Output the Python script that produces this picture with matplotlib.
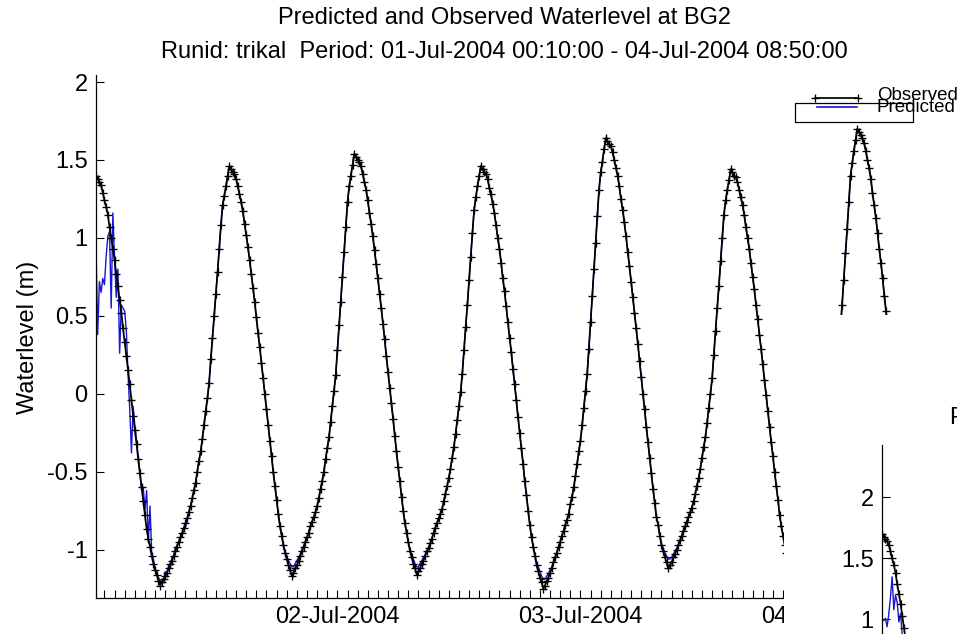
import numpy as np
import pandas as pd
import matplotlib
matplotlib.use("Agg")
import matplotlib.pyplot as plt
import matplotlib.dates as mdates
from matplotlib.patches import Rectangle
from matplotlib.lines import Line2D

plt.rcParams['font.family'] = ['Liberation Sans', 'DejaVu Sans']

STATION = "BG2"
RUNID = "trikal"
PERIOD_START = "2004-07-01 00:10:00"
PERIOD_END = "2004-07-04 08:50:00"
STEP = "10min"

# Observed water level (m), 10-minute samples from PERIOD_START
observed = [
    1.40, 1.38, 1.36, 1.34, 1.29, 1.24, 1.20, 1.15, 1.07, 1.00, 0.93, 0.86, 0.77, 0.69, 0.60, 0.52, 0.42, 0.33, 0.24, 0.15,
    0.06, -0.04, -0.14, -0.23, -0.32, -0.42, -0.51, -0.60, -0.69, -0.78, -0.87, -0.93, -0.98, -1.04, -1.09, -1.13, -1.16, -1.20, -1.23,
    -1.21, -1.19, -1.17, -1.15, -1.12, -1.09, -1.07, -1.04, -1.01, -0.98, -0.95, -0.92, -0.89, -0.86, -0.83, -0.80, -0.76, -0.72, -0.67, -0.62,
    -0.57, -0.50, -0.43, -0.37, -0.29, -0.20, -0.11, -0.03, 0.07, 0.22, 0.36, 0.50, 0.64, 0.78, 0.93, 1.08, 1.21, 1.27, 1.33, 1.40, 1.46,
    1.44, 1.42, 1.41, 1.38, 1.33, 1.28, 1.23, 1.17, 1.09, 1.02, 0.94, 0.86, 0.77, 0.68, 0.59, 0.49, 0.39, 0.30, 0.20, 0.10,
    0.00, -0.10, -0.20, -0.30, -0.40, -0.50, -0.59, -0.68, -0.77, -0.85, -0.91, -0.97, -1.02, -1.06, -1.10, -1.13, -1.17,
    -1.15, -1.12, -1.10, -1.07, -1.04, -1.01, -0.98, -0.95, -0.92, -0.89, -0.85, -0.82, -0.79, -0.76, -0.72, -0.67, -0.61, -0.56, -0.50, -0.42,
    -0.35, -0.28, -0.18, -0.08, 0.02, 0.12, 0.28, 0.44, 0.59, 0.75, 0.91, 1.07, 1.23, 1.33, 1.40, 1.47, 1.54,
    1.52, 1.50, 1.49, 1.46, 1.41, 1.36, 1.31, 1.24, 1.16, 1.09, 1.01, 0.92, 0.83, 0.74, 0.64, 0.55, 0.45, 0.35, 0.24, 0.14,
    0.04, -0.06, -0.16, -0.27, -0.37, -0.47, -0.56, -0.66, -0.75, -0.83, -0.89, -0.95, -1.01, -1.05, -1.09, -1.12, -1.16,
    -1.14, -1.12, -1.09, -1.07, -1.04, -1.01, -0.99, -0.96, -0.93, -0.89, -0.86, -0.83, -0.80, -0.77, -0.74, -0.69, -0.64, -0.59, -0.54, -0.48,
    -0.41, -0.34, -0.26, -0.17, -0.08, 0.01, 0.13, 0.28, 0.43, 0.57, 0.73, 0.88, 1.03, 1.18, 1.26, 1.33, 1.40, 1.46,
    1.44, 1.42, 1.41, 1.38, 1.32, 1.28, 1.22, 1.16, 1.08, 1.00, 0.93, 0.84, 0.74, 0.66, 0.56, 0.46, 0.36, 0.27, 0.16, 0.06,
    -0.04, -0.15, -0.25, -0.35, -0.45, -0.56, -0.65, -0.75, -0.84, -0.92, -0.98, -1.04, -1.10, -1.14, -1.18, -1.21, -1.25,
    -1.23, -1.20, -1.18, -1.15, -1.12, -1.08, -1.05, -1.02, -0.98, -0.95, -0.91, -0.88, -0.84, -0.81, -0.77, -0.71, -0.66, -0.60, -0.53, -0.45,
    -0.37, -0.30, -0.20, -0.09, 0.02, 0.13, 0.29, 0.46, 0.63, 0.80, 0.97, 1.14, 1.31, 1.42, 1.49, 1.57, 1.64,
    1.62, 1.60, 1.59, 1.55, 1.50, 1.45, 1.40, 1.33, 1.25, 1.18, 1.10, 1.01, 0.91, 0.82, 0.72, 0.62, 0.52, 0.42, 0.32, 0.21,
    0.11, 0.00, -0.10, -0.21, -0.31, -0.41, -0.51, -0.61, -0.70, -0.79, -0.84, -0.91, -0.97, -1.01, -1.05, -1.08, -1.12,
    -1.10, -1.08, -1.05, -1.03, -1.00, -0.97, -0.94, -0.91, -0.88, -0.85, -0.82, -0.79, -0.76, -0.73, -0.69, -0.64, -0.59, -0.54, -0.48, -0.41,
    -0.34, -0.28, -0.19, -0.09, 0.00, 0.10, 0.25, 0.40, 0.55, 0.69, 0.85, 1.00, 1.15, 1.24, 1.31, 1.37, 1.44,
    1.42, 1.40, 1.39, 1.36, 1.31, 1.26, 1.21, 1.15, 1.07, 1.00, 0.93, 0.84, 0.75, 0.67, 0.57, 0.48, 0.38, 0.29, 0.19, 0.09,
    -0.01, -0.11, -0.21, -0.31, -0.40, -0.50, -0.59, -0.68, -0.78, -0.85, -0.91, -0.97, -1.02, -1.07, -1.10, -1.13, -1.17,
    -1.15, -1.12, -1.10, -1.07, -1.04, -1.01, -0.98, -0.95, -0.91, -0.88, -0.85, -0.81, -0.78, -0.74, -0.71, -0.66, -0.60, -0.55, -0.50, -0.42,
    -0.34, -0.27, -0.19, -0.09, 0.02, 0.12, 0.25, 0.41, 0.57, 0.73, 0.90, 1.06, 1.23, 1.40, 1.48, 1.56, 1.63, 1.70,
    1.68, 1.66, 1.64, 1.61, 1.56, 1.50, 1.45, 1.38, 1.29, 1.21, 1.13, 1.03, 0.93, 0.84, 0.74, 0.63, 0.53, 0.42, 0.31, 0.20,
    0.09, -0.02, -0.13, -0.24, -0.35, -0.46, -0.56, -0.66, -0.76, -0.85, -0.91, -0.97, -1.04,
]

# Model prediction (m), same 10-minute samples
predicted = [
    0.95, 0.38, 0.72, 0.65, 0.74, 0.70, 0.88, 1.01, 1.04, 0.55, 1.16, 0.86, 0.62, 0.80, 0.26, 0.57, 0.55, 0.53, 0.40, 0.12,
    -0.10, -0.38, -0.08, -0.20, -0.30, -0.40, -0.50, -0.62, -0.60, -0.75, -0.62, -0.95, -0.72, -1.02, -1.06, -1.12, -1.15, -1.18, -1.20,
    -1.19, -1.20, -1.14, -1.16, -1.10, -1.12, -1.05, -1.04, -0.99, -0.97, -0.96, -0.93, -0.90, -0.88, -0.86, -0.81, -0.76, -0.72, -0.67, -0.62,
    -0.57, -0.50, -0.43, -0.37, -0.29, -0.20, -0.11, -0.03, 0.07, 0.22, 0.36, 0.50, 0.64, 0.78, 0.93, 1.08, 1.21, 1.27, 1.33, 1.40, 1.46,
    1.44, 1.42, 1.41, 1.38, 1.33, 1.28, 1.23, 1.17, 1.09, 1.02, 0.94, 0.86, 0.77, 0.68, 0.59, 0.49, 0.39, 0.30, 0.20, 0.10,
    0.00, -0.10, -0.20, -0.30, -0.40, -0.50, -0.59, -0.68, -0.77, -0.85, -0.91, -0.97, -1.01, -1.04, -1.07, -1.09, -1.11,
    -1.11, -1.09, -1.07, -1.05, -1.03, -1.00, -0.98, -0.95, -0.92, -0.89, -0.85, -0.82, -0.79, -0.76, -0.72, -0.67, -0.61, -0.56, -0.50, -0.42,
    -0.35, -0.28, -0.18, -0.08, 0.02, 0.12, 0.28, 0.44, 0.59, 0.75, 0.91, 1.07, 1.23, 1.33, 1.40, 1.47, 1.54,
    1.52, 1.50, 1.49, 1.46, 1.41, 1.36, 1.31, 1.24, 1.16, 1.09, 1.01, 0.92, 0.83, 0.74, 0.64, 0.55, 0.45, 0.35, 0.24, 0.14,
    0.04, -0.06, -0.16, -0.27, -0.37, -0.47, -0.56, -0.66, -0.75, -0.83, -0.89, -0.95, -1.00, -1.03, -1.06, -1.09, -1.11,
    -1.11, -1.09, -1.07, -1.05, -1.03, -1.01, -0.99, -0.96, -0.93, -0.89, -0.86, -0.83, -0.80, -0.77, -0.74, -0.69, -0.64, -0.59, -0.54, -0.48,
    -0.41, -0.34, -0.26, -0.17, -0.08, 0.01, 0.13, 0.28, 0.43, 0.57, 0.73, 0.88, 1.03, 1.18, 1.26, 1.33, 1.40, 1.46,
    1.44, 1.42, 1.41, 1.38, 1.32, 1.28, 1.22, 1.16, 1.08, 1.00, 0.93, 0.84, 0.74, 0.66, 0.56, 0.46, 0.36, 0.27, 0.16, 0.06,
    -0.04, -0.15, -0.25, -0.35, -0.45, -0.56, -0.65, -0.75, -0.84, -0.92, -0.98, -1.03, -1.08, -1.11, -1.14, -1.17, -1.19,
    -1.19, -1.17, -1.15, -1.13, -1.11, -1.08, -1.05, -1.02, -0.98, -0.95, -0.91, -0.88, -0.84, -0.81, -0.77, -0.71, -0.66, -0.60, -0.53, -0.45,
    -0.37, -0.30, -0.20, -0.09, 0.02, 0.13, 0.29, 0.46, 0.63, 0.80, 0.97, 1.14, 1.31, 1.42, 1.49, 1.57, 1.64,
    1.62, 1.60, 1.59, 1.55, 1.50, 1.45, 1.40, 1.33, 1.25, 1.18, 1.10, 1.01, 0.91, 0.82, 0.72, 0.62, 0.52, 0.42, 0.32, 0.21,
    0.11, 0.00, -0.10, -0.21, -0.31, -0.41, -0.51, -0.61, -0.70, -0.79, -0.84, -0.91, -0.96, -0.99, -1.02, -1.04, -1.06,
    -1.06, -1.05, -1.03, -1.01, -0.99, -0.97, -0.94, -0.91, -0.88, -0.85, -0.82, -0.79, -0.76, -0.73, -0.69, -0.64, -0.59, -0.54, -0.48, -0.41,
    -0.34, -0.28, -0.19, -0.09, 0.00, 0.10, 0.25, 0.40, 0.55, 0.69, 0.85, 1.00, 1.15, 1.24, 1.31, 1.37, 1.44,
    1.42, 1.40, 1.39, 1.36, 1.31, 1.26, 1.21, 1.15, 1.07, 1.00, 0.93, 0.84, 0.75, 0.67, 0.57, 0.48, 0.38, 0.29, 0.19, 0.09,
    -0.01, -0.11, -0.21, -0.31, -0.40, -0.50, -0.59, -0.68, -0.78, -0.85, -0.91, -0.97, -1.00, -1.04, -1.07, -1.09, -1.11,
    -1.11, -1.09, -1.07, -1.05, -1.03, -1.01, -0.98, -0.95, -0.91, -0.88, -0.85, -0.81, -0.78, -0.74, -0.71, -0.66, -0.60, -0.55, -0.50, -0.42,
    -0.34, -0.27, -0.19, -0.09, 0.02, 0.12, 0.25, 0.41, 0.57, 0.73, 0.90, 1.06, 1.23, 1.40, 1.48, 1.56, 1.63, 1.70,
    1.68, 1.66, 1.64, 1.61, 1.56, 1.50, 1.45, 1.38, 1.29, 1.21, 1.13, 1.03, 0.93, 0.84, 0.74, 0.63, 0.53, 0.42, 0.31, 0.20,
    0.09, -0.02, -0.13, -0.24, -0.35, -0.46, -0.56, -0.66, -0.76, -0.85, -0.91, -0.97, -1.04,
]

ytick_values = [-1, -0.5, 0, 0.5, 1, 1.5, 2]
ytick_labels = ["-1", "-0.5", "0", "0.5", "1", "1.5", "2"]

# Second plot window (run starting at the 04-Jul high water)
inset_observed = [1.70, 1.68, 1.66, 1.64, 1.61, 1.56, 1.50, 1.45, 1.38, 1.29, 1.21, 1.13, 1.03, 0.93, 0.84, 0.74, 0.63]
inset_predicted = [1.00, 0.99, 1.01, 0.94, 1.04, 1.18, 1.35, 1.08, 1.20, 1.14, 0.98, 1.05, 0.86, 0.80, 0.75, 0.70, 0.62]
inset_ytick_values = [1, 1.5, 2]
inset_ytick_labels = ["1", "1.5", "2"]

OBS_COLOR = "black"
PRED_COLOR = "#1616d6"
OBS_STYLE = dict(color=OBS_COLOR, lw=1.25, marker="+", ms=5.5, mew=0.95)
PRED_STYLE = dict(color=PRED_COLOR, lw=1.0)

W, H = 957, 634


def fx(x):
    return x / W


def fy(y):
    return 1 - y / H


fig = plt.figure(figsize=(W / 100, H / 100), dpi=100)
fig.patch.set_facecolor("white")

# ---- main axes -------------------------------------------------------------
ax = fig.add_axes([fx(96), fy(598), fx(913) - fx(96), fy(75) - fy(598)])
t_obs = pd.date_range(PERIOD_START, periods=len(observed), freq=STEP)
t_pred = pd.date_range(PERIOD_START, periods=len(predicted), freq=STEP)

ax.plot(t_pred, predicted, zorder=2, **PRED_STYLE)
ax.plot(t_obs, observed, zorder=3, **OBS_STYLE)

ax.set_xlim(pd.Timestamp(PERIOD_START), pd.Timestamp(PERIOD_END))
ax.set_ylim(-1.31, 2.045)
ax.set_yticks(ytick_values)
ax.set_yticklabels(ytick_labels)
ax.xaxis.set_major_locator(mdates.DayLocator())
ax.xaxis.set_major_formatter(mdates.DateFormatter("%d-%b-%Y"))
ax.xaxis.set_minor_locator(mdates.HourLocator())
ax.tick_params(axis="both", which="both", direction="in", length=5.8, width=0.8,
               labelsize=17, colors="black")
ax.tick_params(axis="x", which="major", pad=6)
ax.tick_params(axis="y", which="major", pad=6)
for side in ("top", "right"):
    ax.spines[side].set_visible(False)
for side in ("left", "bottom"):
    ax.spines[side].set_linewidth(0.9)

start = pd.Timestamp(PERIOD_START)
end = pd.Timestamp(PERIOD_END)
fmt = "%d-%b-%Y %H:%M:%S"
fig.text(fx(504.5), fy(18), f"Predicted and Observed Waterlevel at {STATION}",
         ha="center", va="center", fontsize=17)
fig.text(fx(504.5), fy(52),
         f"Runid: {RUNID}  Period: {start.strftime(fmt)} - {end.strftime(fmt)}",
         ha="center", va="center", fontsize=17)
fig.text(fx(28), fy(337), "Waterlevel (m)", rotation=90, ha="center", va="center", fontsize=17)

# ---- legend box ------------------------------------------------------------
fig.add_artist(Rectangle((fx(795), fy(122)), fx(913) - fx(795), fy(103) - fy(122),
                         transform=fig.transFigure, facecolor="white", edgecolor="black",
                         lw=0.9, zorder=4))
fig.add_artist(Line2D([fx(815), fx(858)], [fy(98), fy(98)], transform=fig.transFigure,
                      zorder=5, **OBS_STYLE))
fig.add_artist(Line2D([fx(817), fx(857)], [fy(107), fy(107)], transform=fig.transFigure,
                      zorder=5, color=PRED_COLOR, lw=1.2))
fig.text(fx(877), fy(96), "Observed", ha="left", va="center", fontsize=13.5, zorder=6)
fig.text(fx(877), fy(107), "Predicted", ha="left", va="center", fontsize=13.5, zorder=6)

# ---- second window over the lower right -----------------------------------
fig.add_artist(Rectangle((fx(784), 0), fx(W) - fx(784), fy(315), transform=fig.transFigure,
                         facecolor="white", edgecolor="none", zorder=4.5))

ax2 = fig.add_axes([fx(882), fy(924.5), fx(882 + 817) - fx(882), fy(445) - fy(924.5)])
ax2.set_zorder(6)
ax2.patch.set_visible(False)
ax2.plot(np.arange(len(inset_predicted)), inset_predicted, zorder=2, **PRED_STYLE)
ax2.plot(np.arange(len(inset_observed)), inset_observed, zorder=3, **OBS_STYLE)
ax2.set_xlim(0, len(observed) - 1)
ax2.set_ylim(-1.5, 2.43)
ax2.set_yticks(inset_ytick_values)
ax2.set_yticklabels(inset_ytick_labels)
ax2.set_xticks([])
ax2.tick_params(axis="y", direction="in", length=5.8, width=0.8, labelsize=17, pad=6)
for side in ("top", "right", "bottom"):
    ax2.spines[side].set_visible(False)
ax2.spines["left"].set_linewidth(0.9)
fig.text(fx(950), fy(418), f"Predicted and Observed Waterlevel at {STATION}",
         ha="left", va="center", fontsize=17, zorder=7)

fig.savefig("out.png", dpi=100)
